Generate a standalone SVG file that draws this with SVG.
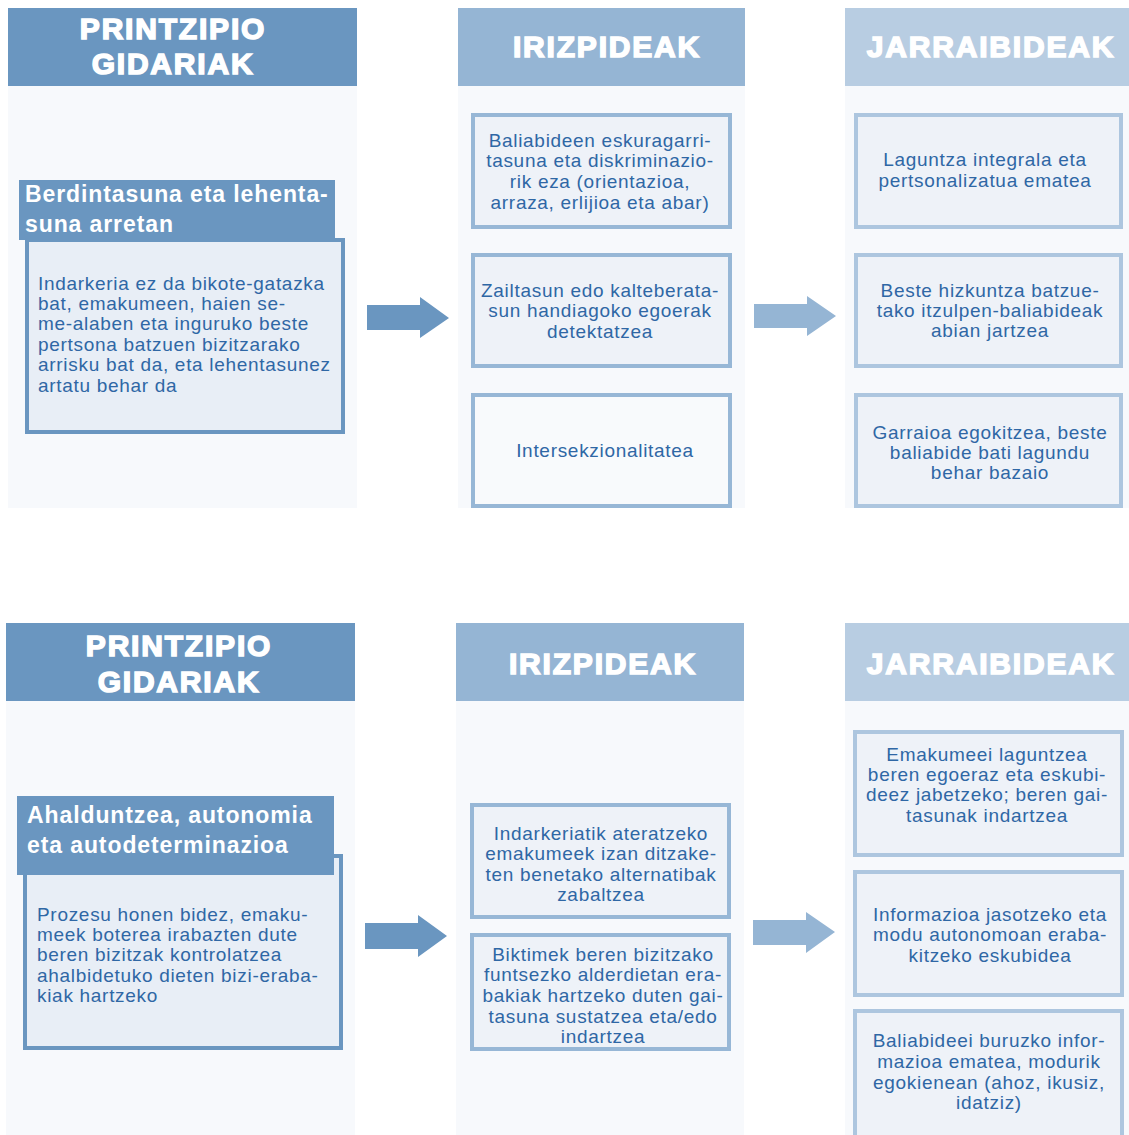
<svg xmlns="http://www.w3.org/2000/svg" width="1129" height="1135" viewBox="0 0 1129 1135">
<style>
.colbg{fill:#f7f9fc}
.h1{fill:#6a96c0}
.h2{fill:#95b5d4}
.h3{fill:#b8cde2}
.ht{font-family:"Liberation Sans",Arial,sans-serif;font-weight:bold;font-size:30px;fill:#fff;stroke:#fff;stroke-width:1.5;letter-spacing:1.8px;text-anchor:middle}
.tt{font-family:"Liberation Sans",Arial,sans-serif;font-weight:bold;font-size:23px;fill:#fff;letter-spacing:0.9px}
.bt{font-family:"Liberation Sans",Arial,sans-serif;font-size:19px;fill:#2f67a5;letter-spacing:0.7px}
.c{text-anchor:middle}
.pbox{fill:#e8eef6;stroke:#6a96c0;stroke-width:4}
.b2{fill:#eef2f8;stroke:#97b7d6;stroke-width:4}
.b2w{fill:#f8fafc;stroke:#97b7d6;stroke-width:4}
.b3{fill:#eef2f8;stroke:#adc6df;stroke-width:4}
</style>
<rect width="1129" height="1135" fill="#fff"/>
<!-- top section columns -->
<g id="top-col1">
<rect class="colbg" x="8" y="86" width="349" height="422"/>
<rect class="h1" x="8" y="8" width="349" height="78"/>
<text class="ht" x="173" y="39">PRINTZIPIO</text>
<text class="ht" x="173" y="74">GIDARIAK</text>
</g>
<g id="top-col2">
<rect class="colbg" x="458" y="86" width="287" height="422"/>
<rect class="h2" x="458" y="8" width="287" height="78"/>
<text class="ht" x="607" y="57">IRIZPIDEAK</text>
</g>
<g id="top-col3">
<rect class="colbg" x="845" y="86" width="284" height="422"/>
<rect class="h3" x="845" y="8" width="284" height="78"/>
<text class="ht" x="991" y="57">JARRAIBIDEAK</text>
</g>
<g id="top-principle">
<rect class="pbox" x="27" y="240" width="316" height="192"/>
<rect class="h1" x="19" y="180" width="316" height="60"/>
<text class="tt" x="25" y="202">Berdintasuna eta lehenta-</text>
<text class="tt" x="25" y="232">suna arretan</text>
<text class="bt" x="38"><tspan x="38" y="290">Indarkeria ez da bikote-gatazka</tspan><tspan x="38" y="310">bat, emakumeen, haien se-</tspan><tspan x="38" y="330">me-alaben eta inguruko beste</tspan><tspan x="38" y="351">pertsona batzuen bizitzarako</tspan><tspan x="38" y="371">arrisku bat da, eta lehentasunez</tspan><tspan x="38" y="392">artatu behar da</tspan></text>
</g>
<g id="top-crit1">
<rect class="b2" x="473" y="115" width="257" height="112"/>
<text class="bt c"><tspan x="600" y="147">Baliabideen eskuragarri-</tspan><tspan x="600" y="167">tasuna eta diskriminazio-</tspan><tspan x="600" y="188">rik eza (orientazioa,</tspan><tspan x="600" y="209">arraza, erlijioa eta abar)</tspan></text>
</g>
<g id="top-crit2">
<rect class="b2" x="473" y="255" width="257" height="111"/>
<text class="bt c"><tspan x="600" y="297">Zailtasun edo kalteberata-</tspan><tspan x="600" y="317">sun handiagoko egoerak</tspan><tspan x="600" y="338">detektatzea</tspan></text>
</g>
<g id="top-crit3">
<rect class="b2w" x="473" y="395" width="257" height="111"/>
<text class="bt c" x="605" y="457">Intersekzionalitatea</text>
</g>
<g id="top-guide1">
<rect class="b3" x="856" y="115" width="265" height="112"/>
<text class="bt c"><tspan x="985" y="166">Laguntza integrala eta</tspan><tspan x="985" y="187">pertsonalizatua ematea</tspan></text>
</g>
<g id="top-guide2">
<rect class="b3" x="856" y="255" width="265" height="111"/>
<text class="bt c"><tspan x="990" y="297">Beste hizkuntza batzue-</tspan><tspan x="990" y="317">tako itzulpen-baliabideak</tspan><tspan x="990" y="337">abian jartzea</tspan></text>
</g>
<g id="top-guide3">
<rect class="b3" x="856" y="395" width="265" height="111"/>
<text class="bt c"><tspan x="990" y="439">Garraioa egokitzea, beste</tspan><tspan x="990" y="459">baliabide bati lagundu</tspan><tspan x="990" y="479">behar bazaio</tspan></text>
</g>
<!-- bottom section columns -->
<g id="bot-col1">
<rect class="colbg" x="6" y="701" width="349" height="434"/>
<rect class="h1" x="6" y="623" width="349" height="78"/>
<text class="ht" x="179" y="656">PRINTZIPIO</text>
<text class="ht" x="179" y="692">GIDARIAK</text>
</g>
<g id="bot-col2">
<rect class="colbg" x="456" y="701" width="288" height="434"/>
<rect class="h2" x="456" y="623" width="288" height="78"/>
<text class="ht" x="603" y="674">IRIZPIDEAK</text>
</g>
<g id="bot-col3">
<rect class="colbg" x="845" y="701" width="284" height="434"/>
<rect class="h3" x="845" y="623" width="284" height="78"/>
<text class="ht" x="991" y="674">JARRAIBIDEAK</text>
</g>
<g id="bot-principle">
<rect class="pbox" x="25" y="856" width="316" height="192"/>
<rect class="h1" x="17" y="796" width="317" height="79"/>
<text class="tt" x="27" y="823">Ahalduntzea, autonomia</text>
<text class="tt" x="27" y="853">eta autodeterminazioa</text>
<text class="bt"><tspan x="37" y="921">Prozesu honen bidez, emaku-</tspan><tspan x="37" y="941">meek boterea irabazten dute</tspan><tspan x="37" y="961">beren bizitzak kontrolatzea</tspan><tspan x="37" y="982">ahalbidetuko dieten bizi-eraba-</tspan><tspan x="37" y="1002">kiak hartzeko</tspan></text>
</g>
<g id="bot-crit1">
<rect class="b2" x="472" y="805" width="257" height="112"/>
<text class="bt c"><tspan x="601" y="840">Indarkeriatik ateratzeko</tspan><tspan x="601" y="860">emakumeek izan ditzake-</tspan><tspan x="601" y="881">ten benetako alternatibak</tspan><tspan x="601" y="901">zabaltzea</tspan></text>
</g>
<g id="bot-crit2">
<rect class="b2" x="472" y="935" width="257" height="114"/>
<text class="bt c"><tspan x="603" y="961">Biktimek beren bizitzako</tspan><tspan x="603" y="981">funtsezko alderdietan era-</tspan><tspan x="603" y="1002">bakiak hartzeko duten gai-</tspan><tspan x="603" y="1023">tasuna sustatzea eta/edo</tspan><tspan x="603" y="1043">indartzea</tspan></text>
</g>
<g id="bot-guide1">
<rect class="b3" x="855" y="732" width="267" height="123"/>
<text class="bt c"><tspan x="987" y="761">Emakumeei laguntzea</tspan><tspan x="987" y="781">beren egoeraz eta eskubi-</tspan><tspan x="987" y="801">deez jabetzeko; beren gai-</tspan><tspan x="987" y="822">tasunak indartzea</tspan></text>
</g>
<g id="bot-guide2">
<rect class="b3" x="855" y="872" width="267" height="123"/>
<text class="bt c"><tspan x="990" y="921">Informazioa jasotzeko eta</tspan><tspan x="990" y="941">modu autonomoan eraba-</tspan><tspan x="990" y="962">kitzeko eskubidea</tspan></text>
</g>
<g id="bot-guide3">
<rect class="b3" x="855" y="1011" width="267" height="130"/>
<text class="bt c"><tspan x="989" y="1047">Baliabideei buruzko infor-</tspan><tspan x="989" y="1068">mazioa ematea, modurik</tspan><tspan x="989" y="1089">egokienean (ahoz, ikusiz,</tspan><tspan x="989" y="1109">idatziz)</tspan></text>
</g>
<!-- connectors -->
<g id="connectors">
<polygon fill="#6a96c0" points="367,305 420,305 420,297 449,318 420,338 420,330 367,330"/>
<polygon fill="#95b5d4" points="754,304 807,304 807,296 836,316 807,336 807,328 754,328"/>
<polygon fill="#6a96c0" points="365,923 418,923 418,915 447,936 418,957 418,949 365,949"/>
<polygon fill="#95b5d4" points="753,920 806,920 806,912 835,932 806,953 806,945 753,945"/>
</g>
</svg>
